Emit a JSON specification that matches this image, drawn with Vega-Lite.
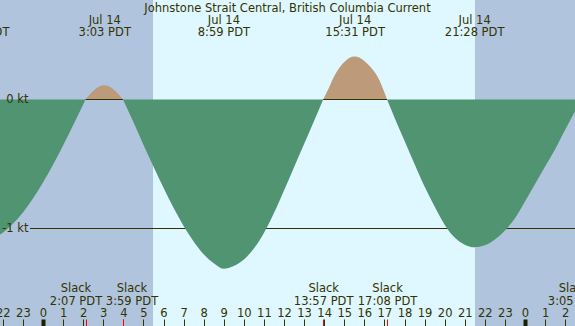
{
  "$schema": "https://vega.github.io/schema/vega-lite/v6.json",
  "width": 575,
  "height": 326,
  "autosize": {"type": "none"},
  "padding": 0,
  "background": "#b0c4de",
  "title": {
    "text": "Johnstone Strait Central, British Columbia Current",
    "font": "DejaVu Sans",
    "fontSize": 11.5,
    "fontWeight": "normal",
    "color": "#333300",
    "anchor": "middle",
    "frame": "group",
    "baseline": "alphabetic",
    "offset": -23.4
  },
  "datasets": {
    "light": [
      {"period": "night", "start": -3, "end": 5.477},
      {"period": "day", "start": 5.477, "end": 21.511},
      {"period": "night", "start": 21.511, "end": 27}
    ],
    "levels": [{"level": -1}],
    "tide": [
      {"t": -2.5, "v": -1.077, "phase": "ebb", "seg": "e0"},
      {"t": -2.0, "v": -1.032, "phase": "ebb", "seg": "e0"},
      {"t": -1.5, "v": -0.964, "phase": "ebb", "seg": "e0"},
      {"t": -1.0, "v": -0.876, "phase": "ebb", "seg": "e0"},
      {"t": -0.5, "v": -0.768, "phase": "ebb", "seg": "e0"},
      {"t": 0.0, "v": -0.644, "phase": "ebb", "seg": "e0"},
      {"t": 0.5, "v": -0.506, "phase": "ebb", "seg": "e0"},
      {"t": 1.0, "v": -0.357, "phase": "ebb", "seg": "e0"},
      {"t": 1.5, "v": -0.199, "phase": "ebb", "seg": "e0"},
      {"t": 2.0, "v": -0.038, "phase": "ebb", "seg": "e0"},
      {"t": 2.11667, "v": 0, "phase": "ebb", "seg": "e0"},

      {"t": 2.11667, "v": 0, "phase": "flood", "seg": "f1"},
      {"t": 2.5, "v": 0.066, "phase": "flood", "seg": "f1"},
      {"t": 2.75, "v": 0.096, "phase": "flood", "seg": "f1"},
      {"t": 3.05, "v": 0.11, "phase": "flood", "seg": "f1"},
      {"t": 3.25, "v": 0.104, "phase": "flood", "seg": "f1"},
      {"t": 3.5, "v": 0.08, "phase": "flood", "seg": "f1"},
      {"t": 3.75, "v": 0.042, "phase": "flood", "seg": "f1"},
      {"t": 3.98333, "v": 0, "phase": "flood", "seg": "f1"},

      {"t": 3.98333, "v": 0, "phase": "ebb", "seg": "e1"},
      {"t": 4.5, "v": -0.175, "phase": "ebb", "seg": "e1"},
      {"t": 5.0, "v": -0.35, "phase": "ebb", "seg": "e1"},
      {"t": 5.5, "v": -0.52, "phase": "ebb", "seg": "e1"},
      {"t": 6.0, "v": -0.685, "phase": "ebb", "seg": "e1"},
      {"t": 6.5, "v": -0.84, "phase": "ebb", "seg": "e1"},
      {"t": 7.0, "v": -0.98, "phase": "ebb", "seg": "e1"},
      {"t": 7.5, "v": -1.1, "phase": "ebb", "seg": "e1"},
      {"t": 8.0, "v": -1.2, "phase": "ebb", "seg": "e1"},
      {"t": 8.5, "v": -1.27, "phase": "ebb", "seg": "e1"},
      {"t": 8.98333, "v": -1.312, "phase": "ebb", "seg": "e1"},
      {"t": 9.5, "v": -1.29, "phase": "ebb", "seg": "e1"},
      {"t": 10.0, "v": -1.24, "phase": "ebb", "seg": "e1"},
      {"t": 10.5, "v": -1.155, "phase": "ebb", "seg": "e1"},
      {"t": 11.0, "v": -1.035, "phase": "ebb", "seg": "e1"},
      {"t": 11.5, "v": -0.88, "phase": "ebb", "seg": "e1"},
      {"t": 12.0, "v": -0.705, "phase": "ebb", "seg": "e1"},
      {"t": 12.5, "v": -0.525, "phase": "ebb", "seg": "e1"},
      {"t": 13.0, "v": -0.345, "phase": "ebb", "seg": "e1"},
      {"t": 13.5, "v": -0.165, "phase": "ebb", "seg": "e1"},
      {"t": 13.95, "v": 0, "phase": "ebb", "seg": "e1"},

      {"t": 13.95, "v": 0, "phase": "flood", "seg": "f2"},
      {"t": 14.25, "v": 0.095, "phase": "flood", "seg": "f2"},
      {"t": 14.5, "v": 0.18, "phase": "flood", "seg": "f2"},
      {"t": 14.75, "v": 0.245, "phase": "flood", "seg": "f2"},
      {"t": 15.0, "v": 0.29, "phase": "flood", "seg": "f2"},
      {"t": 15.25, "v": 0.322, "phase": "flood", "seg": "f2"},
      {"t": 15.51667, "v": 0.333, "phase": "flood", "seg": "f2"},
      {"t": 15.75, "v": 0.325, "phase": "flood", "seg": "f2"},
      {"t": 16.0, "v": 0.298, "phase": "flood", "seg": "f2"},
      {"t": 16.25, "v": 0.262, "phase": "flood", "seg": "f2"},
      {"t": 16.5, "v": 0.215, "phase": "flood", "seg": "f2"},
      {"t": 16.75, "v": 0.15, "phase": "flood", "seg": "f2"},
      {"t": 17.0, "v": 0.055, "phase": "flood", "seg": "f2"},
      {"t": 17.13333, "v": 0, "phase": "flood", "seg": "f2"},

      {"t": 17.13333, "v": 0, "phase": "ebb", "seg": "e2"},
      {"t": 17.5, "v": -0.14, "phase": "ebb", "seg": "e2"},
      {"t": 18.0, "v": -0.32, "phase": "ebb", "seg": "e2"},
      {"t": 18.5, "v": -0.5, "phase": "ebb", "seg": "e2"},
      {"t": 19.0, "v": -0.675, "phase": "ebb", "seg": "e2"},
      {"t": 19.5, "v": -0.83, "phase": "ebb", "seg": "e2"},
      {"t": 20.0, "v": -0.97, "phase": "ebb", "seg": "e2"},
      {"t": 20.5, "v": -1.07, "phase": "ebb", "seg": "e2"},
      {"t": 21.0, "v": -1.125, "phase": "ebb", "seg": "e2"},
      {"t": 21.46667, "v": -1.145, "phase": "ebb", "seg": "e2"},
      {"t": 22.0, "v": -1.13, "phase": "ebb", "seg": "e2"},
      {"t": 22.5, "v": -1.085, "phase": "ebb", "seg": "e2"},
      {"t": 23.0, "v": -1.015, "phase": "ebb", "seg": "e2"},
      {"t": 23.5, "v": -0.92, "phase": "ebb", "seg": "e2"},
      {"t": 24.0, "v": -0.79, "phase": "ebb", "seg": "e2"},
      {"t": 24.5, "v": -0.655, "phase": "ebb", "seg": "e2"},
      {"t": 25.0, "v": -0.52, "phase": "ebb", "seg": "e2"},
      {"t": 25.5, "v": -0.385, "phase": "ebb", "seg": "e2"},
      {"t": 26.0, "v": -0.235, "phase": "ebb", "seg": "e2"},
      {"t": 26.5, "v": -0.09, "phase": "ebb", "seg": "e2"},
      {"t": 26.85, "v": 0, "phase": "ebb", "seg": "e2"}
    ]
  },
  "layer": [
    {
      "data": {"name": "light"},
      "mark": {"type": "rect", "clip": true},
      "encoding": {
        "x": {
          "field": "start",
          "type": "quantitative",
          "scale": {"domain": [-2.14108, 26.4896], "nice": false, "zero": false},
          "axis": {
            "orient": "top",
            "values": [-2.1, 3.05, 8.98333, 15.51667, 21.46667],
            "ticks": false,
            "tickSize": 0,
            "domain": false,
            "grid": false,
            "title": null,
            "zindex": 1,
            "labelFlush": false,
            "labelOverlap": false,
            "labelPadding": -23.4,
            "labelAlign": "center",
            "labelBaseline": "alphabetic",
            "labelLineHeight": 12,
            "labelOffset": {"condition": {"test": "datum.value < 0", "value": -21.7}, "value": 0},
            "labelExpr": "datum.value < 0 ? ['Jul 13', '20:49 PDT'] : ['Jul 14', floor((round(datum.value*60) + 1440) % 1440 / 60) + ':' + ((round(datum.value*60) + 1440) % 60 < 10 ? '0' : '') + (round(datum.value*60) + 1440) % 60 + ' PDT']"
          }
        },
        "x2": {"field": "end"},
        "color": {
          "field": "period",
          "type": "nominal",
          "scale": {"domain": ["night", "day"], "range": ["#b0c4de", "#dff7ff"]},
          "legend": null
        }
      }
    },
    {
      "data": {"name": "levels"},
      "mark": {"type": "rule", "color": "#333300", "strokeWidth": 1, "clip": true},
      "encoding": {
        "x": {"datum": -0.647, "type": "quantitative", "axis": null},
        "x2": {"datum": 27},
        "y": {"field": "level", "type": "quantitative", "axis": null}
      }
    },
    {
      "data": {"name": "tide"},
      "mark": {"type": "area", "interpolate": "monotone", "clip": true},
      "encoding": {
        "x": {
          "field": "t",
          "type": "quantitative",
          "axis": {
            "orient": "bottom",
            "values": [-2, -1, 0, 1, 2, 3, 4, 5, 6, 7, 8, 9, 10, 11, 12, 13, 14, 15, 16, 17, 18, 19, 20, 21, 22, 23, 24, 25, 26],
            "ticks": true,
            "tickSize": -7,
            "tickColor": {"condition": {"test": "datum.value % 24 === 0", "value": "#1e1e00"}, "value": "#333300"},
            "tickWidth": {"condition": {"test": "datum.value % 24 === 0", "value": 4}, "value": 1},
            "domain": false,
            "grid": false,
            "title": null,
            "zindex": 1,
            "labelFlush": false,
            "labelOverlap": false,
            "labelPadding": -3,
            "labelBaseline": "alphabetic",
            "labelExpr": "(datum.value % 24 + 24) % 24"
          }
        },
        "y": {
          "field": "v",
          "type": "quantitative",
          "stack": null,
          "scale": {"domain": [-1.75581, 0.77132], "nice": false, "zero": false},
          "axis": {
            "orient": "left",
            "values": [0, -1],
            "ticks": false,
            "tickSize": 0,
            "domain": false,
            "grid": false,
            "title": null,
            "zindex": 1,
            "labelFlush": false,
            "labelOverlap": false,
            "labelPadding": -28,
            "labelAlign": "right",
            "labelBaseline": "middle",
            "labelExpr": "datum.value + ' kt'"
          }
        },
        "y2": {"datum": 0},
        "color": {
          "field": "phase",
          "type": "nominal",
          "scale": {"domain": ["ebb", "flood"], "range": ["#509472", "#bd9a7a"]},
          "legend": null
        },
        "detail": {"field": "seg"}
      }
    },
    {
      "data": {"name": "tide"},
      "transform": [
        {"filter": "datum.phase === 'flood'"},
        {"aggregate": [{"op": "min", "field": "t", "as": "start"}, {"op": "max", "field": "t", "as": "end"}], "groupby": ["seg"]}
      ],
      "mark": {"type": "rule", "color": "#333300", "strokeWidth": 1},
      "encoding": {
        "x": {
          "field": "start",
          "type": "quantitative",
          "axis": {
            "orient": "bottom",
            "values": [2.11667, 3.98333, 13.95, 17.13333, 26.45],
            "ticks": true,
            "tickSize": -7,
            "tickColor": "#ff0000",
            "tickWidth": 1,
            "tickOpacity": {"condition": {"test": "datum.value > 26", "value": 0}, "value": 1},
            "domain": false,
            "grid": false,
            "title": null,
            "zindex": 2,
            "labelFlush": false,
            "labelOverlap": false,
            "labelPadding": -27.3,
            "labelBaseline": "alphabetic",
            "labelLineHeight": 12.6,
            "labelOffset": {"condition": [{"test": "datum.value < 3", "value": -10}, {"test": "datum.value > 3 && datum.value < 5", "value": 8.5}, {"test": "datum.value > 26", "value": -0.7}], "value": 0},
            "labelExpr": "datum.value > 26 ? ['Slack', '3:05 PDT'] : ['Slack', floor((round(datum.value*60) + 1440) % 1440 / 60) + ':' + ((round(datum.value*60) + 1440) % 60 < 10 ? '0' : '') + (round(datum.value*60) + 1440) % 60 + ' PDT']"
          }
        },
        "x2": {"field": "end"},
        "y": {"datum": 0, "type": "quantitative", "axis": null}
      }
    }
  ],
  "resolve": {
    "axis": {"x": "independent", "y": "independent"},
    "scale": {"color": "independent"}
  },
  "config": {
    "view": {"stroke": null},
    "axis": {
      "labelFont": "DejaVu Sans",
      "labelFontSize": 11.5,
      "labelColor": "#333300",
      "tickColor": "#333300"
    }
  }
}
